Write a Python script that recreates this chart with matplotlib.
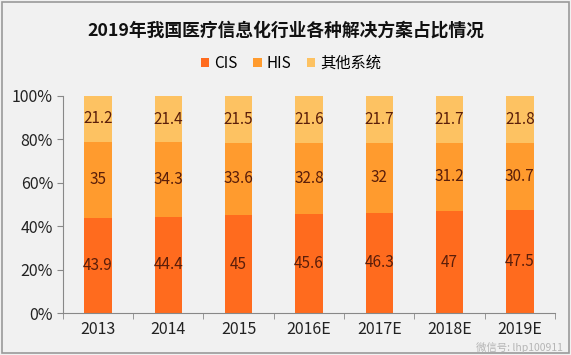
import numpy as np
import matplotlib.pyplot as plt
from matplotlib.patches import Rectangle

plt.rcParams['font.family'] = ['Noto Sans CJK SC', 'DejaVu Sans']

years = ["2013", "2014", "2015", "2016E", "2017E", "2018E", "2019E"]
cis = [43.9, 44.4, 45, 45.6, 46.3, 47, 47.5]
his = [35, 34.3, 33.6, 32.8, 32, 31.2, 30.7]
other = [21.2, 21.4, 21.5, 21.6, 21.7, 21.7, 21.8]

series_names = ["CIS", "HIS", "其他系统"]
colors = ["#FF6B1E", "#FF9B2E", "#FDC262"]
bg = "#F1F1F1"

data = np.array([cis, his, other])
shares = data / data.sum(axis=0) * 100

fig = plt.figure(figsize=(5.71, 3.55), dpi=100, facecolor=bg)
ax = fig.add_axes([0.110, 0.118, 0.862, 0.612], facecolor=bg)

x = np.arange(len(years))
bottom = np.zeros(len(years))
handles = []
for name, share, vals, c in zip(series_names, shares, data, colors):
    h = ax.bar(x, share, bottom=bottom, width=0.39, color=c, label=name)
    handles.append(h)
    for xi, b, s, v in zip(x, bottom, share, vals):
        ax.text(xi, b + s / 2, f"{v:g}", ha="center", va="center",
                fontsize=11, color="#5A1E0A")
    bottom += share

ax.set_xlim(-0.5, len(years) - 0.5)
ax.set_ylim(0, 100)
ax.set_yticks(np.arange(0, 101, 20))
ax.set_yticklabels([f"{v}%" for v in range(0, 101, 20)], fontsize=11.5, color="#222222")
ax.set_xticks(x)
ax.set_xticklabels(years, fontsize=11.5, color="#222222")
ax.set_xticks(np.arange(-0.5, len(years)), minor=True)
ax.tick_params(axis="x", which="major", length=0, pad=6)
ax.tick_params(axis="x", which="minor", length=4, color="#888888")
ax.tick_params(axis="y", length=4, color="#888888", pad=3)
for s in ["top", "right"]:
    ax.spines[s].set_visible(False)
for s in ["left", "bottom"]:
    ax.spines[s].set_color("#888888")
    ax.spines[s].set_linewidth(0.8)

fig.text(0.5, 0.915, "2019年我国医疗信息化行业各种解决方案占比情况",
         ha="center", va="center", fontsize=12.8, fontweight="bold", color="#111111")

fig.legend(handles=handles, labels=series_names, loc="center",
           bbox_to_anchor=(0.51, 0.822), ncol=3, frameon=False,
           fontsize=11, handlelength=0.55, handleheight=0.55,
           columnspacing=1.0, handletextpad=0.35)

fig.text(0.985, 0.022, "微信号: lhp100911", fontsize=7.5, color="#B5B5B5",
         ha="right", va="center")

fig.add_artist(Rectangle((0.003, 0.005), 0.994, 0.99, transform=fig.transFigure,
                         fill=False, edgecolor="#9A9A9A", linewidth=1.2))

fig.savefig("out.png", dpi=100, facecolor=bg)
